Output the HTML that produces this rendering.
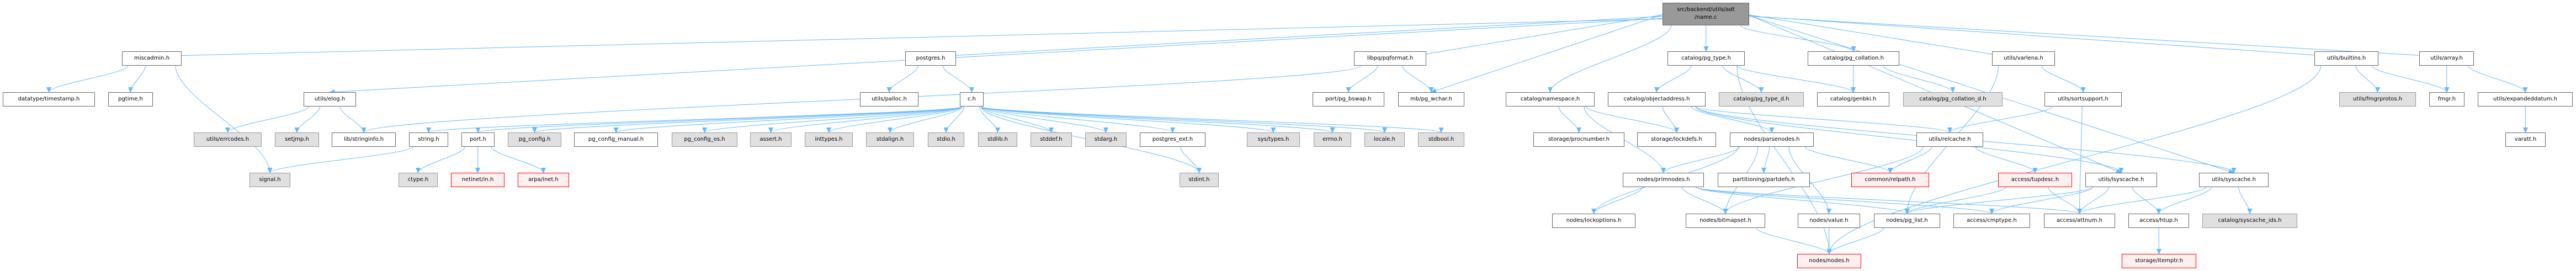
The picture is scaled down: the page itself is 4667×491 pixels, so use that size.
<!DOCTYPE html>
<html><head><meta charset="utf-8"><style>
html,body{margin:0;padding:0;background:#fff;width:4667px;height:491px;overflow:hidden;position:relative}
.b{position:absolute;box-sizing:border-box;height:26px;border:1px solid #666;background:#fff;font:10px "DejaVu Sans","Liberation Sans",sans-serif;color:#000;text-align:center;line-height:24px;white-space:nowrap;z-index:2}
.g{background:#e0e0e0;border-color:#999}
.r{background:#fff0f0;border-color:#f00}
.m{background:#999;border-color:#666;line-height:14px;padding-top:5px;height:41px}
svg{position:absolute;left:0;top:0;z-index:1}
</style></head><body>
<svg id="s" width="4667" height="491"><defs><marker id="a" markerUnits="userSpaceOnUse" markerWidth="10" markerHeight="9" refX="9" refY="4.5" orient="auto"><path d="M0,0 L10,4.5 L0,9 z" fill="#63b8ff"/></marker></defs></svg>
<div class="b m" id="main" style="left:3012px;top:5px;width:157px">src/backend/utils/adt<br>/name.c</div>
<div class="b" id="misc" style="left:221px;top:93px;width:108px">miscadmin.h</div>
<div class="b" id="postgres" style="left:1640px;top:93px;width:92px">postgres.h</div>
<div class="b" id="pqformat" style="left:2453px;top:93px;width:131px">libpq/pqformat.h</div>
<div class="b" id="pgtype" style="left:3021px;top:93px;width:140px">catalog/pg_type.h</div>
<div class="b" id="pgcoll" style="left:3275px;top:93px;width:166px">catalog/pg_collation.h</div>
<div class="b" id="varlena" style="left:3609px;top:93px;width:114px">utils/varlena.h</div>
<div class="b" id="builtins" style="left:4193px;top:93px;width:116px">utils/builtins.h</div>
<div class="b" id="array" style="left:4383px;top:93px;width:99px">utils/array.h</div>

<div class="b" id="timestamp" style="left:5px;top:167px;width:167px">datatype/timestamp.h</div>
<div class="b" id="pgtime" style="left:196px;top:167px;width:81px">pgtime.h</div>
<div class="b" id="elog" style="left:550px;top:167px;width:95px">utils/elog.h</div>
<div class="b" id="palloc" style="left:1558px;top:167px;width:106px">utils/palloc.h</div>
<div class="b" id="ch" style="left:1739px;top:167px;width:43px">c.h</div>
<div class="b" id="bswap" style="left:2378px;top:167px;width:130px">port/pg_bswap.h</div>
<div class="b" id="wchar" style="left:2533px;top:167px;width:120px">mb/pg_wchar.h</div>
<div class="b" id="namespace" style="left:2728px;top:167px;width:161px">catalog/namespace.h</div>
<div class="b" id="objaddr" style="left:2913px;top:167px;width:177px">catalog/objectaddress.h</div>
<div class="b g" id="pgtyped" style="left:3114px;top:167px;width:154px">catalog/pg_type_d.h</div>
<div class="b" id="genbki" style="left:3292px;top:167px;width:131px">catalog/genbki.h</div>
<div class="b g" id="pgcolld" style="left:3448px;top:167px;width:180px">catalog/pg_collation_d.h</div>
<div class="b" id="sortsup" style="left:3704px;top:167px;width:140px">utils/sortsupport.h</div>
<div class="b g" id="fmgrprotos" style="left:4238px;top:167px;width:139px">utils/fmgrprotos.h</div>
<div class="b" id="fmgr" style="left:4401px;top:167px;width:64px">fmgr.h</div>
<div class="b" id="expdatum" style="left:4489px;top:167px;width:172px">utils/expandeddatum.h</div>

<div class="b g" id="errcodes" style="left:351px;top:240px;width:123px">utils/errcodes.h</div>
<div class="b g" id="setjmp" style="left:498px;top:240px;width:80px">setjmp.h</div>
<div class="b" id="stringinfo" style="left:601px;top:240px;width:116px">lib/stringinfo.h</div>
<div class="b" id="string" style="left:741px;top:240px;width:71px">string.h</div>
<div class="b" id="port" style="left:836px;top:240px;width:60px">port.h</div>
<div class="b g" id="pgconfig" style="left:920px;top:240px;width:97px">pg_config.h</div>
<div class="b" id="pgcm" style="left:1040px;top:240px;width:152px">pg_config_manual.h</div>
<div class="b g" id="pgcos" style="left:1217px;top:240px;width:119px">pg_config_os.h</div>
<div class="b g" id="assert" style="left:1359px;top:240px;width:75px">assert.h</div>
<div class="b g" id="inttypes" style="left:1458px;top:240px;width:87px">inttypes.h</div>
<div class="b g" id="stdalign" style="left:1569px;top:240px;width:87px">stdalign.h</div>
<div class="b g" id="stdio" style="left:1681px;top:240px;width:66px">stdio.h</div>
<div class="b g" id="stdlib" style="left:1772px;top:240px;width:71px">stdlib.h</div>
<div class="b g" id="stddef" style="left:1867px;top:240px;width:75px">stddef.h</div>
<div class="b g" id="stdarg" style="left:1966px;top:240px;width:75px">stdarg.h</div>
<div class="b" id="pgext" style="left:2065px;top:240px;width:119px">postgres_ext.h</div>
<div class="b g" id="systypes" style="left:2259px;top:240px;width:96px">sys/types.h</div>
<div class="b g" id="errno" style="left:2380px;top:240px;width:68px">errno.h</div>
<div class="b g" id="locale" style="left:2472px;top:240px;width:73px">locale.h</div>
<div class="b g" id="stdbool" style="left:2569px;top:240px;width:84px">stdbool.h</div>
<div class="b" id="procnum" style="left:2778px;top:240px;width:165px">storage/procnumber.h</div>
<div class="b" id="lockdefs" style="left:2966px;top:240px;width:143px">storage/lockdefs.h</div>
<div class="b" id="parsenodes" style="left:3134px;top:240px;width:152px">nodes/parsenodes.h</div>
<div class="b" id="relcache" style="left:3472px;top:240px;width:121px">utils/relcache.h</div>
<div class="b" id="varatt" style="left:4539px;top:240px;width:73px">varatt.h</div>

<div class="b g" id="signal" style="left:452px;top:313px;width:74px">signal.h</div>
<div class="b g" id="ctype" style="left:722px;top:313px;width:71px">ctype.h</div>
<div class="b r" id="netinet" style="left:817px;top:313px;width:97px">netinet/in.h</div>
<div class="b r" id="arpa" style="left:938px;top:313px;width:93px">arpa/inet.h</div>
<div class="b g" id="stdint" style="left:2137px;top:313px;width:71px">stdint.h</div>
<div class="b" id="primnodes" style="left:2940px;top:313px;width:147px">nodes/primnodes.h</div>
<div class="b" id="partdefs" style="left:3112px;top:313px;width:167px">partitioning/partdefs.h</div>
<div class="b r" id="relpath" style="left:3354px;top:313px;width:141px">common/relpath.h</div>
<div class="b r" id="tupdesc" style="left:3620px;top:313px;width:134px">access/tupdesc.h</div>
<div class="b" id="lsyscache" style="left:3778px;top:313px;width:130px">utils/lsyscache.h</div>
<div class="b" id="syscache" style="left:3984px;top:313px;width:126px">utils/syscache.h</div>

<div class="b" id="lockopt" style="left:2812px;top:387px;width:151px">nodes/lockoptions.h</div>
<div class="b" id="bitmapset" style="left:3054px;top:387px;width:144px">nodes/bitmapset.h</div>
<div class="b" id="value" style="left:3257px;top:387px;width:113px">nodes/value.h</div>
<div class="b" id="pglist" style="left:3395px;top:387px;width:120px">nodes/pg_list.h</div>
<div class="b" id="cmptype" style="left:3539px;top:387px;width:139px">access/cmptype.h</div>
<div class="b" id="attnum" style="left:3703px;top:387px;width:129px">access/attnum.h</div>
<div class="b" id="htup" style="left:3856px;top:387px;width:110px">access/htup.h</div>
<div class="b g" id="sysids" style="left:3990px;top:387px;width:172px">catalog/syscache_ids.h</div>

<div class="b r" id="nodes" style="left:3256px;top:460px;width:116px">nodes/nodes.h</div>
<div class="b r" id="itemptr" style="left:3844px;top:460px;width:135px">storage/itemptr.h</div>
<script>
var E=[["main","misc"],["main","elog"],["main","postgres"],["main","pqformat"],["main","wchar"],["main","namespace"],["main","pgtype"],["main","pgcoll"],["main","varlena"],["main","builtins"],["main","array"],["main","lsyscache"],["main","syscache"],
["misc","timestamp"],["misc","pgtime"],["misc","signal"],["postgres","palloc"],["postgres","ch"],["pqformat","bswap"],["pqformat","wchar"],["pqformat","stringinfo"],
["elog","errcodes"],["elog","setjmp"],["elog","stringinfo"],
["ch","string"],["ch","port"],["ch","pgconfig"],["ch","pgcm"],["ch","pgcos"],["ch","assert"],["ch","inttypes"],["ch","stdalign"],["ch","stdio"],["ch","stdlib"],["ch","stddef"],["ch","stdarg"],["ch","pgext"],["ch","stdint"],["ch","systypes"],["ch","errno"],["ch","locale"],["ch","stdbool"],
["string","signal"],["port","ctype"],["port","netinet"],["port","arpa"],["pgext","stdint"],
["pgtype","pgtyped"],["pgtype","genbki"],["pgtype","objaddr"],["pgtype","nodes"],
["namespace","procnum"],["namespace","lockdefs"],["namespace","primnodes"],
["objaddr","lockdefs"],["objaddr","parsenodes"],["objaddr","relcache"],["objaddr","syscache"],["objaddr","lsyscache"],
["parsenodes","primnodes"],["parsenodes","partdefs"],["parsenodes","relpath"],["parsenodes","value"],["parsenodes","lockopt"],["parsenodes","bitmapset"],
["primnodes","lockopt"],["primnodes","bitmapset"],["primnodes","pglist"],["primnodes","cmptype"],["primnodes","attnum"],
["pgcoll","genbki"],["pgcoll","pgcolld"],["varlena","sortsup"],["varlena","pglist"],["sortsup","relcache"],["sortsup","attnum"],
["relcache","relpath"],["relcache","tupdesc"],["relcache","bitmapset"],["tupdesc","attnum"],["tupdesc","pglist"],
["lsyscache","pglist"],["lsyscache","cmptype"],["lsyscache","attnum"],["lsyscache","htup"],
["syscache","htup"],["syscache","sysids"],["syscache","attnum"],["htup","itemptr"],
["value","nodes"],["pglist","nodes"],["bitmapset","nodes"],["builtins","fmgrprotos"],["builtins","fmgr"],["builtins","nodes"],["array","fmgr"],["array","expdatum"],["expdatum","varatt"]];
var s=document.getElementById("s"),h="";
function R(id){var e=document.getElementById(id);return{x:e.offsetLeft,y:e.offsetTop,w:e.offsetWidth,h:e.offsetHeight};}
E.forEach(function(p){var a=R(p[0]),b=R(p[1]);var tcx=b.x+b.w/2,scx=a.x+a.w/2;
var d;
if(p[0]=="main"&&Math.abs(tcx-scx)>a.w*2.5){
 var left=tcx<scx;var sx=left?a.x:a.x+a.w,sy=a.y+20+Math.min(15,Math.abs(tcx-scx)/300);
 var tx=left?Math.min(b.x+b.w,tcx+b.w*0.35):Math.max(b.x,tcx-b.w*0.35),ty=b.y+8;
 if(b.y>150){tx=tcx;ty=b.y;}
 d='M'+sx+','+sy+' L'+tx+','+ty;
}else{
 var sx=Math.max(a.x+a.w*0.1,Math.min(a.x+a.w*0.9,scx+(tcx-scx)*0.3)),sy=a.y+a.h;
 var tx=tcx,ty=b.y;
 d='M'+sx+','+sy+' C'+sx+','+(sy+(ty-sy)*0.3)+' '+tx+','+(ty-(ty-sy)*0.3)+' '+tx+','+ty;
}
h+='<path d="'+d+'" fill="none" stroke="#63b8ff" stroke-width="1" marker-end="url(#a)"/>';});
s.insertAdjacentHTML("beforeend",h);
</script>
</body></html>
